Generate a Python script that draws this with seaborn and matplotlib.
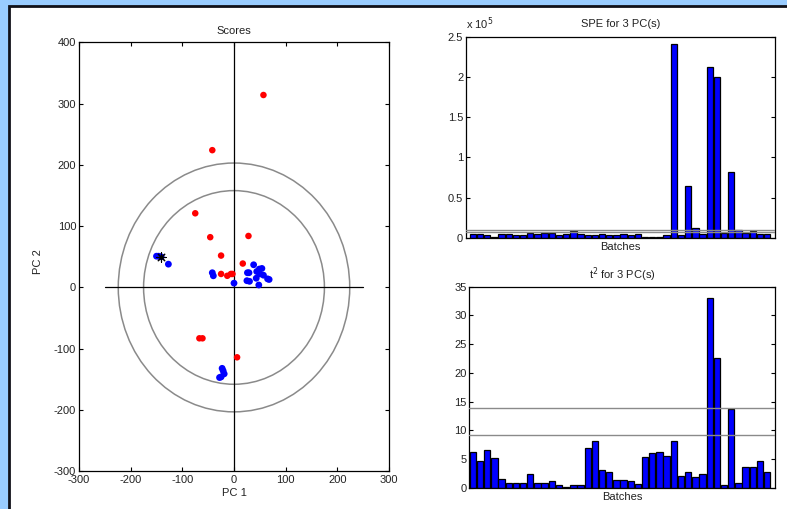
import numpy as np
import pandas as pd
import matplotlib
matplotlib.use("Agg")
import matplotlib.pyplot as plt
import seaborn as sns
from matplotlib.patches import Ellipse, Rectangle

# ---------------- data ----------------
red_x = [57, -42, -75, -46, 28, -25, 17, -25, -13, -6, -3, -67, -61, 6]
red_y = [314, 224, 121, 82, 84, 52, 39, 22, 19, 22, 22, -83, -83, -114]

blue_x = [-150, -146, -141, -127, -42, -40, 0, 38, 26, 29, 54, 49, 44, 50, 57,
          43, 65, 68, 25, 30, 48, -23, -21, -19, -25, -28]
blue_y = [51, 51, 50, 38, 24, 19, 7, 37, 24, 24, 31, 30, 26, 22, 20,
          15, 14, 13, 11, 10, 4, -132, -136, -141, -146, -147]

star_x = [-142]
star_y = [50]

limit_radii_x = [175, 224]
limit_radii_y = [158, 203]

spe_values = [0.04, 0.04, 0.03, 0.005, 0.04, 0.04, 0.03, 0.03, 0.06, 0.04,
              0.06, 0.06, 0.03, 0.05, 0.08, 0.04, 0.03, 0.03, 0.04, 0.03,
              0.03, 0.04, 0.03, 0.04, 0.005, 0.005, 0.005, 0.03, 2.41, 0.03,
              0.64, 0.12, 0.04, 2.12, 2.00, 0.06, 0.82, 0.10, 0.06, 0.08,
              0.04, 0.04]
spe_limits = [0.065, 0.09]

t2_values = [6.2, 4.7, 6.6, 5.2, 1.6, 0.8, 0.8, 0.8, 2.4, 0.8,
             0.8, 1.1, 0.4, 0.2, 0.4, 0.4, 7.0, 8.1, 3.1, 2.7,
             1.4, 1.3, 1.1, 0.6, 5.4, 6.0, 6.3, 5.6, 8.1, 2.1,
             2.7, 1.8, 2.4, 33.1, 22.6, 0.4, 13.7, 0.8, 3.6, 3.6,
             4.6, 2.7]
t2_limits = [9.2, 13.8]

scatter_xticks = [-300, -200, -100, 0, 100, 200, 300]
scatter_yticks = [-300, -200, -100, 0, 100, 200, 300, 400]
spe_yticks = [0, 0.5, 1, 1.5, 2, 2.5]
spe_yticklabels = ["0", "0.5", "1", "1.5", "2", "2.5"]
t2_yticks = [0, 5, 10, 15, 20, 25, 30, 35]

# ---------------- style ----------------
sns.set_theme(style="white")
plt.rcParams['font.family'] = ['Liberation Sans', 'DejaVu Sans']
plt.rcParams['font.size'] = 8
plt.rcParams['axes.unicode_minus'] = False
TXT = '#222222'

W, H = 787, 509
fig = plt.figure(figsize=(W / 100, H / 100), dpi=100)
fig.patch.set_facecolor('#99CCFF')
# white panel with black frame (drawn beneath the axes)
fig.patches.append(Rectangle((9 / W, -0.05), 1.1, (H - 6) / H + 0.05,
                             transform=fig.transFigure, facecolor='white',
                             edgecolor='#101018', linewidth=2, zorder=-5))


def fx(px):
    return px / W


def fy(py):
    return 1 - py / H


def style_axes(ax):
    for s in ax.spines.values():
        s.set_visible(True)
        s.set_color('black')
        s.set_linewidth(0.9)
    ax.tick_params(direction='in', length=3, width=0.8, colors='black',
                   labelcolor=TXT, labelsize=8, top=True, right=True,
                   bottom=True, left=True, pad=2)
    ax.set_facecolor('white')


# ---------------- scores scatter ----------------
ax1 = fig.add_axes([fx(79), fy(471.3), fx(389) - fx(79), fy(42.3) - fy(471.3)])
style_axes(ax1)
ax1.tick_params(axis='x', pad=2.5)
for rx, ry in zip(limit_radii_x, limit_radii_y):
    ax1.add_patch(Ellipse((0, 0), 2 * rx, 2 * ry, fill=False,
                          edgecolor='#8a8a8a', linewidth=1.1, zorder=1))
ax1.plot([-250, 250], [0, 0], color='black', lw=0.9, zorder=2)
ax1.plot([0, 0], [-300, 400], color='black', lw=0.9, zorder=2)

df_red = pd.DataFrame({'x': red_x, 'y': red_y})
df_blue = pd.DataFrame({'x': blue_x, 'y': blue_y})
sns.scatterplot(data=df_red, x='x', y='y', color='#ff0000', s=22,
                edgecolor='none', ax=ax1, zorder=3)
sns.scatterplot(data=df_blue, x='x', y='y', color='#0000ff', s=24,
                edgecolor='none', ax=ax1, zorder=3)
ax1.scatter(star_x, star_y, marker=(8, 2, 0), s=45, color='black',
            linewidths=0.8, zorder=4)

ax1.set_xlim(-300, 300)
ax1.set_ylim(-300, 400)
ax1.set_xticks(scatter_xticks)
ax1.set_yticks(scatter_yticks)
ax1.set_title('Scores', fontsize=8, color=TXT, pad=6)
ax1.set_xlabel('PC 1', fontsize=8, color=TXT, labelpad=2)
ax1.set_ylabel('')
fig.text(fx(38), fy(262), 'PC 2', rotation=90, ha='center',
         va='center', fontsize=8, color=TXT)

# ---------------- SPE bars ----------------
idx = list(range(1, len(spe_values) + 1))
ax2 = fig.add_axes([fx(466), fy(237.7), fx(775) - fx(466), fy(36.7) - fy(237.7)])
style_axes(ax2)
sns.barplot(x=idx, y=spe_values, color='#0000ff', saturation=1,
            edgecolor='black', linewidth=0.9, width=0.88, ax=ax2,
            native_scale=True, zorder=2)
for v in spe_limits:
    ax2.axhline(v, color='#8a8a8a', lw=1, zorder=3)
ax2.set_xlim(0.04, 43.1)
ax2.set_ylim(0, 2.5)
ax2.set_yticks(spe_yticks)
ax2.set_yticklabels(spe_yticklabels)
ax2.set_xticks([])
ax2.set_title('SPE for 3 PC(s)', fontsize=8, color=TXT, pad=7)
ax2.set_xlabel('Batches', fontsize=8, color=TXT, labelpad=3)
ax2.text(0.0, 1.025, r'x 10$^5$', transform=ax2.transAxes, ha='left',
         va='bottom', fontsize=8, color=TXT)

# ---------------- T2 bars ----------------
ax3 = fig.add_axes([fx(469.3), fy(487.7), fx(775) - fx(469.3), fy(286.7) - fy(487.7)])
style_axes(ax3)
sns.barplot(x=idx, y=t2_values, color='#0000ff', saturation=1,
            edgecolor='black', linewidth=0.9, width=0.88, ax=ax3,
            native_scale=True, zorder=2)
for v in t2_limits:
    ax3.axhline(v, color='#8a8a8a', lw=1, zorder=3)
ax3.set_xlim(0.5, 43.1)
ax3.set_ylim(0, 35)
ax3.set_yticks(t2_yticks)
ax3.set_xticks([])
ax3.set_title(r't$^2$ for 3 PC(s)', fontsize=8, color=TXT, pad=6)
ax3.set_xlabel('Batches', fontsize=8, color=TXT, labelpad=3)

fig.savefig('out.png', dpi=100, facecolor=fig.get_facecolor())
